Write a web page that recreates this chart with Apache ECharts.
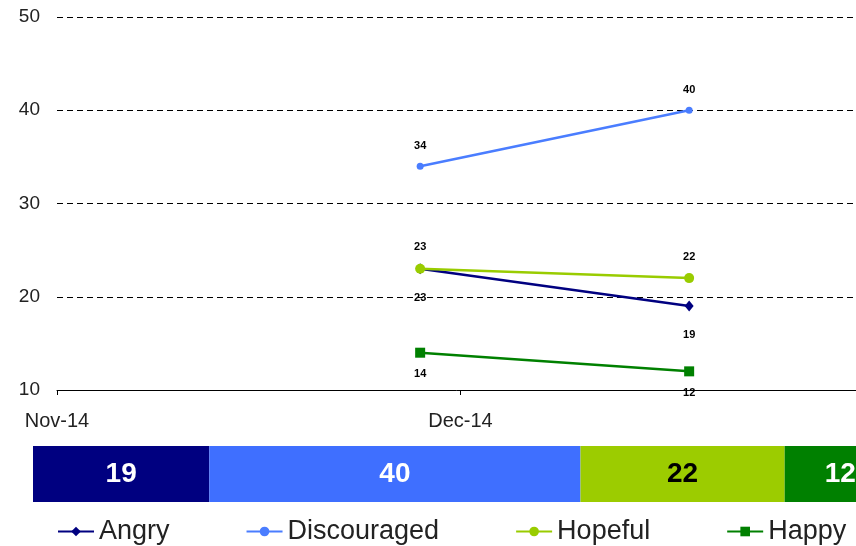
<!DOCTYPE html>
<html>
<head>
<meta charset="utf-8">
<script src="https://cdn.jsdelivr.net/npm/echarts@6/dist/echarts.min.js"></script>
<style>
html,body{margin:0;padding:0;background:#fff;}
#chart{width:856px;height:546px;}
</style>
</head>
<body>
<div id="chart"></div>
<script>
// ---- data ----
const axisStart = '2014-11-01';
const dates = ['2014-11-28', '2014-12-18'];
const seriesNames = ['Angry', 'Discouraged', 'Hopeful', 'Happy'];
const angry = [23, 19];
const discouraged = [34, 40];
const hopeful = [23, 22];
const happy = [14, 12];
const xTickLabels = ['Nov-14', 'Dec-14', 'Jan-15'];
const yTicks = [10, 20, 30, 40, 50];

// ---- styles ----
const lineColors = ['#000080', '#4A7DFF', '#99CC00', '#008000'];
const barColors = ['#000080', '#3F6FFF', '#9CCC00', '#008000'];
const barLabelColors = ['#fff', '#fff', '#000', '#fff'];
const symbols = ['diamond', 'circle', 'circle', 'rect'];
const symbolSizes = [[9, 11], 7, 10, 10];
const labelPos = ['bottom', 'top', 'top', 'bottom'];
const labelDist = [18, 11, 11, 11];
const font = 'Liberation Sans, Arial, sans-serif';

const dayMs = 86400000;
const dayOf = d => (Date.parse(d) - Date.parse(axisStart)) / dayMs;
const allValues = [angry, discouraged, hopeful, happy];

const lineSeries = allValues.map((vals, i) => ({
  name: seriesNames[i],
  type: 'line',
  xAxisIndex: 0, yAxisIndex: 0,
  data: vals.map((v, j) => [dayOf(dates[j]), v]),
  symbol: symbols[i],
  symbolSize: symbolSizes[i],
  lineStyle: { color: lineColors[i], width: 2.5 },
  itemStyle: { color: lineColors[i] },
  label: {
    show: true, position: labelPos[i], distance: labelDist[i],
    fontSize: 11, fontWeight: 'bold', color: '#000', fontFamily: font
  },
  emphasis: { disabled: true },
  animation: false
}));

const latest = allValues.map(v => v[v.length - 1]);
const barSeries = latest.map((v, i) => ({
  name: 'bar-' + seriesNames[i],
  type: 'bar',
  stack: 'total',
  xAxisIndex: 1, yAxisIndex: 1,
  data: [v],
  barWidth: '100%',
  itemStyle: { color: barColors[i] },
  label: {
    show: true, position: 'inside',
    fontSize: 28, fontWeight: 'bold', color: barLabelColors[i], fontFamily: font
  },
  emphasis: { disabled: true },
  animation: false
}));

const chart = echarts.init(document.getElementById('chart'), null, { renderer: 'canvas' });
chart.setOption({
  backgroundColor: '#fff',
  animation: false,
  textStyle: { fontFamily: font },
  grid: [
    { left: 57, width: 807, top: 17, height: 373, outerBoundsMode: 'none', containLabel: false },
    { left: 33, width: 863, top: 446, height: 56, outerBoundsMode: 'none', containLabel: false }
  ],
  xAxis: [
    {
      type: 'value', gridIndex: 0,
      min: 0, max: 60, interval: 30,
      axisLine: { show: true, lineStyle: { color: '#000', width: 1 } },
      axisTick: { show: true, length: 5, lineStyle: { color: '#000' } },
      splitLine: { show: false },
      axisLabel: {
        fontSize: 20, color: '#222', margin: 21, fontFamily: font,
        showMaxLabel: false,
        formatter: v => xTickLabels[Math.round(v / 30)] || ''
      }
    },
    {
      type: 'value', gridIndex: 1, min: 0, max: latest.reduce((a, b) => a + b, 0),
      show: false
    }
  ],
  yAxis: [
    {
      type: 'value', gridIndex: 0,
      min: yTicks[0], max: yTicks[yTicks.length - 1], interval: 10,
      axisLine: { show: false },
      axisTick: { show: false },
      splitLine: { show: true, lineStyle: { color: '#000', type: [6, 4], width: 1 } },
      axisLabel: { fontSize: 19, color: '#222', margin: 17, fontFamily: font }
    },
    {
      type: 'category', gridIndex: 1, data: [''], show: false
    }
  ],
  legend: {
    data: seriesNames,
    left: 57, top: 518,
    itemWidth: 36, itemHeight: 12, itemGap: 76,
    padding: 0,
    textStyle: { fontSize: 27, color: '#222', fontFamily: font }
  },
  series: lineSeries.concat(barSeries)
});
</script>
</body>
</html>
